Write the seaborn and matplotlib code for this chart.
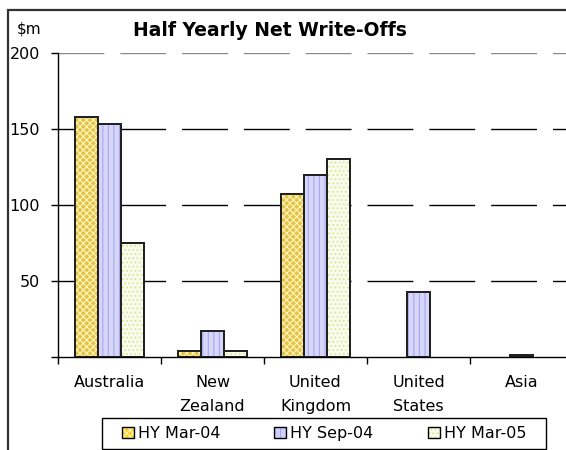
import matplotlib
matplotlib.use("Agg")
import matplotlib.pyplot as plt
import pandas as pd
import seaborn as sns
from matplotlib.patches import Patch, Rectangle
from matplotlib.legend_handler import HandlerTuple
from matplotlib.ticker import FixedLocator, NullFormatter

regions = ["Australia", "New\nZealand", "United\nKingdom", "United\nStates", "Asia"]
periods = ["HY Mar-04", "HY Sep-04", "HY Mar-05"]
hy_mar04 = [158, 4, 107, 0, 0]
hy_sep04 = [153, 17, 120, 43, 1]
hy_mar05 = [75, 4, 130, 0, 0]

face_colors = ["#FFD22A", "#D0D0FF", "#FCFCEE"]
hatch_colors = ["#FFF6C0", "#A8A8F0", "#D4EC88"]
hatches = ["xxxxx", "|||", "...."]

df = pd.DataFrame({
    "region": regions * 3,
    "period": [p for p in periods for _ in regions],
    "value": hy_mar04 + hy_sep04 + hy_mar05,
})

sns.set_theme(style="white")
plt.rcParams["font.family"] = ["DejaVu Sans"]
plt.rcParams["text.color"] = "black"
plt.rcParams["hatch.linewidth"] = 0.8

fig = plt.figure(figsize=(5.66, 4.5), dpi=100)
ax = fig.add_axes([58 / 566, 1 - 357 / 450, 515 / 566, 304 / 450])

sns.barplot(data=df, x="region", y="value", hue="period", order=regions,
            hue_order=periods, palette=face_colors, width=0.67, errorbar=None,
            edgecolor="black", linewidth=1.4, legend=False, ax=ax, zorder=3)

# hatch overlay so the pattern gets its own colour
for cont, hc, h in zip(ax.containers, hatch_colors, hatches):
    for bar in cont:
        if bar.get_height() <= 0:
            bar.set_visible(False)
            continue
        ax.add_patch(Rectangle(bar.get_xy(), bar.get_width(), bar.get_height(),
                               facecolor="none", edgecolor=hc, hatch=h,
                               linewidth=0, zorder=3.5))
        ax.add_patch(Rectangle(bar.get_xy(), bar.get_width(), bar.get_height(),
                               facecolor="none", edgecolor="#222222",
                               linewidth=1.4, zorder=3.6))

ax.set_ylim(0, 200)
ax.set_xlim(-0.5, 4.5)
ax.set_yticks([0, 50, 100, 150, 200])
ax.set_yticklabels(["", "50", "100", "150", "200"])
ax.set_xlabel("")
ax.set_ylabel("")

ax.yaxis.grid(True, color="black", linewidth=1.0, linestyle=(0, (33, 11.5)), zorder=0)
ax.get_ygridlines()[-1].set_color("#888888")
ax.get_ygridlines()[0].set_visible(False)

for side in ["top", "right"]:
    ax.spines[side].set_visible(False)
for side in ["left", "bottom"]:
    ax.spines[side].set_color("black")
    ax.spines[side].set_linewidth(1.0)
ax.spines["bottom"].set_zorder(4)

ax.tick_params(axis="y", left=True, length=5, width=1, color="black", pad=8,
               labelsize=11.5, labelcolor="black")
ax.tick_params(axis="x", which="major", length=0, pad=13, labelsize=11.5, labelcolor="black")
ax.xaxis.set_minor_locator(FixedLocator([-0.5, 0.5, 1.5, 2.5, 3.5, 4.5]))
ax.xaxis.set_minor_formatter(NullFormatter())
ax.tick_params(axis="x", which="minor", bottom=True, length=5, width=1, color="black")
for lbl in ax.get_xticklabels():
    lbl.set_linespacing(1.75)
    lbl.set_verticalalignment("top")

fig.text(270 / 566, 1 - 30 / 450, "Half Yearly Net Write-Offs", ha="center", va="center",
         fontsize=13.5, fontweight="bold", color="black")
fig.text(17 / 566, 1 - 29 / 450, "$m", ha="left", va="center", fontsize=11)

# outer chart frame (cut off on the right and bottom)
fig.add_artist(Rectangle((8 / 566, -0.1), 1.2, 1.1 - 10 / 450, transform=fig.transFigure,
                         facecolor="none", edgecolor="#333333", linewidth=1.6))

# legend frame drawn separately, entries spread inside it
fig.add_artist(Rectangle((102 / 566, 1 - 449 / 450), 444 / 566, 31 / 450,
                         transform=fig.transFigure, facecolor="white",
                         edgecolor="black", linewidth=1.0))
handles = []
for fc, hc, h in zip(face_colors, hatch_colors, hatches):
    handles.append((Patch(facecolor=fc, edgecolor=hc, hatch=h, linewidth=0),
                    Patch(facecolor="none", edgecolor="black", linewidth=1.0)))
fig.legend(handles, periods, loc="center", ncol=3, mode="expand",
           bbox_to_anchor=(117 / 566, 1 - 449 / 450, 414 / 566, 31 / 450),
           handler_map={tuple: HandlerTuple(ndivide=1, pad=0)},
           fontsize=11.5, frameon=False, handlelength=0.75, handleheight=0.75,
           handletextpad=0.25, borderaxespad=0, borderpad=0.3)

fig.savefig("out.png", dpi=100)
